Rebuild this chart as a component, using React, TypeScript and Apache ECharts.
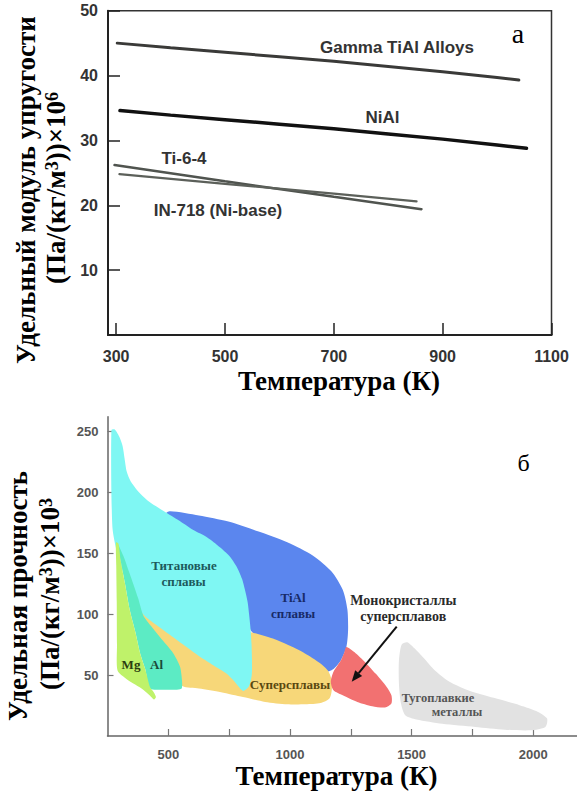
import React, { useEffect, useRef } from "react";
import * as echarts from "echarts";

// ---------- Panel (а): specific elastic modulus vs temperature ----------
const TOP_X_TICKS = [300, 500, 700, 900, 1100];
const TOP_Y_TICKS = [10, 20, 30, 40, 50];
const GAMMA_TIAL = [
  [302, 45.0], [400, 44.3], [500, 43.6], [600, 42.9], [700, 42.2],
  [800, 41.4], [900, 40.6], [1000, 39.7], [1040, 39.3],
];
const NIAL = [
  [307, 34.6], [400, 33.9], [500, 33.2], [600, 32.5], [700, 31.8],
  [800, 31.0], [900, 30.2], [1000, 29.3], [1054, 28.8],
];
const TI_6_4 = [[297, 26.2], [500, 23.7], [700, 21.3], [861, 19.4]];
const IN_718 = [[306, 24.8], [500, 23.3], [700, 21.8], [852, 20.6]];

// ---------- Panel (б): specific strength vs temperature ----------
const BOT_X_LABELS = [500, 1000, 1500, 2000];
const BOT_X_TICKS = [500, 750, 1000, 1250, 1500, 1750, 2000];
const BOT_Y_TICKS = [50, 100, 150, 200, 250];

const TIAL_ALLOYS = [
  [480, 180], [505, 184.5], [626, 181], [747, 176], [868, 168], [989, 159],
  [1095, 148], [1171, 135], [1217, 120], [1236, 104], [1239, 87], [1232, 73],
  [1209, 62], [1179, 55], [1141, 52], [1111, 54], [1000, 66], [900, 76],
  [835, 88], [800, 120], [720, 150], [600, 165],
];
const SUPERALLOYS = [
  [385, 104], [460, 95], [560, 90], [700, 88], [843, 85], [930, 80],
  [1000, 74], [1060, 68], [1123, 60], [1155, 54], [1170, 47], [1172, 38],
  [1163, 31], [1126, 27], [1065, 26], [989, 26], [898, 28], [807, 32],
  [717, 36], [626, 39], [558, 41], [450, 60], [400, 85],
];
const MONOCRYSTALS = [
  [1232, 73], [1270, 68], [1307, 61], [1353, 51], [1391, 42], [1417, 33.5],
  [1417, 26.6], [1391, 23.4], [1338, 24.5], [1277, 28], [1217, 33.5],
  [1179, 37.6], [1168, 44.5], [1179, 52.7], [1209, 62], [1224, 69],
];
const TITANIUM_ALLOYS = [
  [266, 251], [280, 251.5], [300, 245], [312, 238], [320, 228], [329, 217],
  [345, 209], [371, 202], [400, 196], [430, 191], [470, 186], [494, 183],
  [550, 176], [603, 169], [660, 163], [712, 155], [750, 148], [781, 139],
  [803, 129], [815, 120], [826, 110], [832, 100], [838, 88], [842, 76],
  [844, 63], [843, 50], [832, 41], [808, 37], [775, 44], [740, 51],
  [685, 58], [630, 65], [575, 73], [520, 81], [465, 89], [411, 97],
  [384, 103], [330, 125], [290, 150], [270, 172],
];
const AL_ALLOYS = [
  [288, 159], [315, 148], [340, 134], [376, 113], [397, 99], [430, 90],
  [466, 81], [520, 68], [548, 57], [556, 46], [555, 39], [530, 38],
  [480, 38], [425, 39], [405, 55], [384, 68], [365, 85], [342, 103],
  [322, 125], [304, 144],
];
const MG_ALLOYS = [
  [285, 159], [295, 158], [304, 144], [322, 125], [342, 103], [365, 85],
  [384, 68], [405, 55], [425, 40], [440, 36], [449, 32], [441, 30],
  [425, 33], [390, 39], [356, 43], [320, 48], [291, 54], [289, 75],
  [288, 110], [286, 140],
];
const REFRACTORY = [
  [1459, 75], [1482, 77], [1512, 72], [1550, 64], [1595, 54], [1656, 44.5],
  [1732, 37.6], [1838, 31.3], [1944, 25.3], [2020, 19.8], [2057, 14.3],
  [2050, 7.4], [1989, 4.7], [1883, 5.2], [1762, 7.4], [1626, 10],
  [1520, 13.5], [1474, 17], [1456, 27], [1448, 43], [1448, 62],
];

const SERIF = '"Liberation Serif", "Times New Roman", serif';
const SANS = '"Liberation Sans", Arial, sans-serif';

const REGIONS = [
  { pts: TIAL_ALLOYS, color: "#5b86ee" },
  { pts: SUPERALLOYS, color: "#f7d779" },
  { pts: MONOCRYSTALS, color: "#f27171" },
  { pts: TITANIUM_ALLOYS, color: "#7ff7f3" },
  { pts: AL_ALLOYS, color: "#5cebc4" },
  { pts: MG_ALLOYS, color: "#bff26a" },
  { pts: REFRACTORY, color: "#e2e2e2" },
];

function txt(x: number, y: number, text: string, style: any, rotation = 0, z = 50): any {
  return {
    type: "text",
    x,
    y,
    rotation,
    z,
    silent: true,
    style: {
      text,
      textAlign: "center",
      textVerticalAlign: "middle",
      verticalAlign: "middle",
      ...style,
    },
  };
}

const plain = (v: number) => String(v);

function buildOption(): any {
  const labelTop = { fontFamily: SANS, fontWeight: "bold", fontSize: 17, fill: "#333" };
  const titleStyle = { fontFamily: SERIF, fontWeight: "bold", fontSize: 27, fill: "#000" };
  const supRich = {
    s: { fontFamily: SERIF, fontWeight: "bold", fontSize: 18, verticalAlign: "top", fill: "#000" },
  };
  const inner = (color: string, size = 13) => ({ fontFamily: SERIF, fontWeight: "bold", fontSize: size, fill: color });

  // arrow geometry (pixels)
  const ax0 = 396.7, ay0 = 626.7, ax1 = 351.7, ay1 = 681.7;
  const dx = ax1 - ax0, dy = ay1 - ay0;
  const len = Math.sqrt(dx * dx + dy * dy);
  const ux = dx / len, uy = dy / len;
  const hl = 11, hw = 4.5;
  const bx = ax1 - ux * hl, by = ay1 - uy * hl;

  const lineSeries = (name: string, data: number[][], color: string, width: number) => ({
    name,
    type: "line",
    xAxisIndex: 0,
    yAxisIndex: 0,
    data,
    symbol: "none",
    smooth: false,
    silent: true,
    lineStyle: { color, width, cap: "round" },
  });

  return {
    animation: false,
    backgroundColor: "#ffffff",
    grid: [
      {
        left: 108, top: 10.7, width: 443.5, height: 324.3,
        show: true, borderColor: "#333", borderWidth: 1.5, backgroundColor: "transparent",
      },
      { left: 107.5, top: 416.8, width: 469.5, height: 319.2 },
    ],
    xAxis: [
      {
        gridIndex: 0, type: "value", min: 285, max: 1100,
        axisLine: { show: true, onZero: false, lineStyle: { color: "#222", width: 2 } },
        axisTick: { show: true, inside: true, length: 12, customValues: TOP_X_TICKS, lineStyle: { color: "#222", width: 1.5 } },
        axisLabel: { customValues: TOP_X_TICKS, formatter: plain, margin: 13, fontFamily: SANS, fontWeight: "bold", fontSize: 16, color: "#333" },
        splitLine: { show: false },
      },
      {
        gridIndex: 1, type: "value", min: 250, max: 2180,
        axisLine: { show: true, onZero: false, lineStyle: { color: "#666", width: 1.5 } },
        axisTick: { show: true, inside: true, length: 7, customValues: BOT_X_TICKS, lineStyle: { color: "#777", width: 1.2 } },
        axisLabel: { customValues: BOT_X_LABELS, formatter: plain, margin: 12, fontFamily: SANS, fontWeight: "bold", fontSize: 13, color: "#555" },
        splitLine: { show: false },
      },
    ],
    yAxis: [
      {
        gridIndex: 0, type: "value", min: 0, max: 50,
        axisLine: { show: true, onZero: false, lineStyle: { color: "#222", width: 2 } },
        axisTick: { show: true, inside: true, length: 12, customValues: TOP_Y_TICKS, lineStyle: { color: "#222", width: 1.5 } },
        axisLabel: { customValues: TOP_Y_TICKS, formatter: plain, margin: 10, fontFamily: SANS, fontWeight: "bold", fontSize: 16, color: "#333" },
        splitLine: { show: false },
      },
      {
        gridIndex: 1, type: "value", min: 0, max: 262,
        axisLine: { show: true, onZero: false, lineStyle: { color: "#666", width: 1.5 } },
        axisTick: { show: true, inside: true, length: 6, customValues: BOT_Y_TICKS, lineStyle: { color: "#777", width: 1.2 } },
        axisLabel: { customValues: BOT_Y_TICKS, formatter: plain, margin: 9, fontFamily: SANS, fontWeight: "bold", fontSize: 13, color: "#555" },
        splitLine: { show: false },
      },
    ],
    series: [
      lineSeries("Gamma TiAl Alloys", GAMMA_TIAL, "#3a3a38", 3),
      lineSeries("NiAl", NIAL, "#111111", 3.5),
      lineSeries("Ti-6-4", TI_6_4, "#50544f", 2.5),
      lineSeries("IN-718 (Ni-base)", IN_718, "#5c605a", 2.2),
      {
        type: "custom",
        xAxisIndex: 1,
        yAxisIndex: 1,
        silent: true,
        clip: false,
        data: REGIONS.map((r) => r.pts[0]),
        renderItem: (params: any, api: any) => {
          const r = REGIONS[params.dataIndex];
          const pts = r.pts.map((p) => api.coord(p));
          return {
            type: "polygon",
            shape: { points: pts, smooth: 0.25 },
            style: { fill: r.color, stroke: null },
          };
        },
      },
    ],
    graphic: [
      // Panel (а) labels
      txt(397, 47.5, "Gamma TiAl Alloys", labelTop),
      txt(382.5, 117.5, "NiAl", labelTop),
      txt(184, 158, "Ti-6-4", labelTop),
      txt(218, 210, "IN-718 (Ni-base)", labelTop),
      txt(518, 33, "а", { fontFamily: SERIF, fontSize: 28, fill: "#000" }),
      // Panel (а) titles
      txt(339, 381, "Температура (К)", titleStyle),
      txt(26, 190, "Удельный модуль упругости", titleStyle, Math.PI / 2),
      txt(56, 188, "(Па/(кг/м{s|3}))×10{s|6}", { ...titleStyle, rich: supRich }, Math.PI / 2),

      // Panel (б) labels
      txt(184, 565, "Титановые", inner("#1d5a5c")),
      txt(183.5, 581, "сплавы", inner("#1d5a5c")),
      txt(293, 597, "TiAl", inner("#172a66")),
      txt(293, 613, "сплавы", inner("#172a66")),
      txt(131, 664, "Mg", inner("#2b3d10")),
      txt(156.5, 664, "Al", inner("#1b4a3a")),
      txt(290, 684, "Суперсплавы", inner("#5a4810")),
      txt(403.3, 600.5, "Монокристаллы", inner("#2a2a2a", 14)),
      txt(403.3, 616.7, "суперсплавов", inner("#2a2a2a", 14)),
      txt(438, 698, "Тугоплавкие", inner("#555555", 12.5)),
      txt(457, 712, "металлы", inner("#555555", 12.5)),
      txt(523.5, 463, "б", { fontFamily: SERIF, fontSize: 24, fill: "#000" }),
      {
        type: "line", z: 50, silent: true,
        shape: { x1: ax0, y1: ay0, x2: bx, y2: by },
        style: { stroke: "#111", lineWidth: 2 },
      },
      {
        type: "polygon", z: 50, silent: true,
        shape: {
          points: [
            [ax1, ay1],
            [bx + uy * hw, by - ux * hw],
            [bx - uy * hw, by + ux * hw],
          ],
        },
        style: { fill: "#111" },
      },
      // Panel (б) titles
      txt(336.5, 776, "Температура (К)", titleStyle),
      txt(18, 596, "Удельная прочность", titleStyle, Math.PI / 2),
      txt(50, 594, "(Па/(кг/м{s|3}))×10{s|3}", { ...titleStyle, rich: supRich }, Math.PI / 2),
    ],
  };
}

export default function App() {
  const ref = useRef<HTMLDivElement>(null);
  useEffect(() => {
    if (!ref.current) return;
    const chart = echarts.init(ref.current, null, { renderer: "svg" });
    chart.setOption(buildOption());
    return () => chart.dispose();
  }, []);
  return (
    <div
      ref={ref}
      style={{ position: "fixed", left: 0, top: 0, width: 577, height: 791, background: "#fff" }}
    />
  );
}
